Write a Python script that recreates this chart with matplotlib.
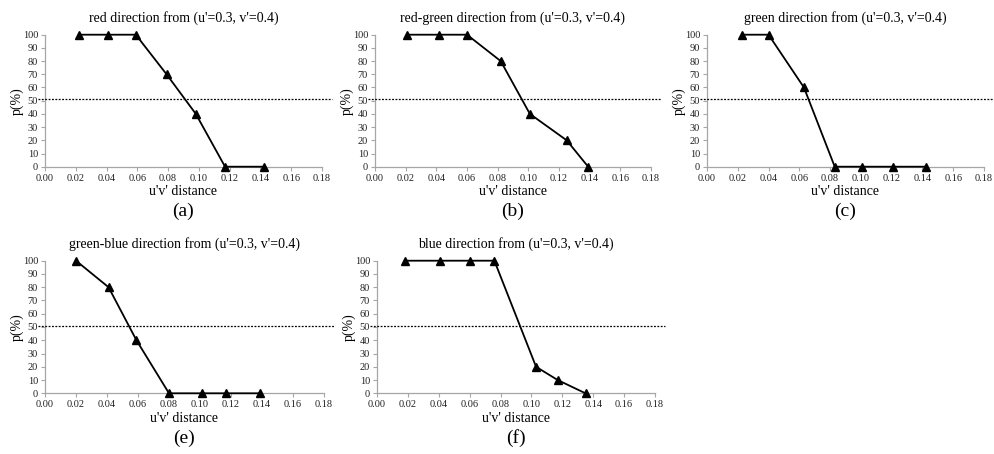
import matplotlib
matplotlib.use("Agg")
import matplotlib.pyplot as plt
import matplotlib.transforms as mtransforms

plt.rcParams['font.family'] = 'Liberation Serif'

# distances (u'v') and percentages
x_red = [0.022, 0.041, 0.059, 0.079, 0.098, 0.117, 0.142]
p_red = [100, 100, 100, 70, 40, 0, 0]

x_red_green = [0.021, 0.042, 0.060, 0.082, 0.101, 0.125, 0.139]
p_red_green = [100, 100, 100, 80, 40, 20, 0]

x_green = [0.023, 0.040, 0.063, 0.083, 0.101, 0.121, 0.142]
p_green = [100, 100, 60, 0, 0, 0, 0]

x_green_blue = [0.020, 0.041, 0.059, 0.080, 0.101, 0.117, 0.139]
p_green_blue = [100, 80, 40, 0, 0, 0, 0]

x_blue = [0.018, 0.041, 0.060, 0.076, 0.103, 0.117, 0.135]
p_blue = [100, 100, 100, 100, 20, 10, 0]

titles = ["red direction from (u'=0.3, v'=0.4)",
          "red-green direction from (u'=0.3, v'=0.4)",
          "green direction from (u'=0.3, v'=0.4)",
          "green-blue direction from (u'=0.3, v'=0.4)",
          "blue direction from (u'=0.3, v'=0.4)"]
letters = ["(a)", "(b)", "(c)", "(e)", "(f)"]
threshold = 51

W, H = 995, 454
fig = plt.figure(figsize=(W / 100, H / 100), dpi=100)

# axes boxes in pixels: left, right, top (100), bottom (0)
boxes = [(45, 322, 34.7, 166.7),
         (375, 651, 34.7, 166.7),
         (707, 984, 34.7, 166.7),
         (45, 324, 260.7, 393.3),
         (377, 655, 260.7, 393.3)]
data = [(x_red, p_red), (x_red_green, p_red_green), (x_green, p_green),
        (x_green_blue, p_green_blue), (x_blue, p_blue)]

grey = '#a6a6a6'
for i in range(5):
    l, r, t, b = boxes[i]
    ax = fig.add_axes([l / W, 1 - b / H, (r - l) / W, (b - t) / H])
    xs, ps = data[i]
    ax.plot(xs, ps, color='black', linewidth=1.3, marker='^', markersize=6,
            clip_on=False, zorder=5)
    trans = mtransforms.blended_transform_factory(ax.transAxes, ax.transData)
    ax.plot([-0.025, 1.035], [threshold, threshold], transform=trans, color='black',
            linewidth=0.9, linestyle=(0, (1.5, 1.2)), clip_on=False, zorder=4)
    ax.set_xlim(0, 0.18)
    ax.set_ylim(0, 100)
    ax.set_xticks([0.02 * k for k in range(10)])
    ax.set_xticklabels(['%.2f' % (0.02 * k) for k in range(10)])
    ax.set_yticks(range(0, 101, 10))
    for s in ['top', 'right']:
        ax.spines[s].set_visible(False)
    for s in ['left', 'bottom']:
        ax.spines[s].set_color(grey)
        ax.spines[s].set_linewidth(0.9)
    ax.tick_params(colors=grey, labelcolor='#222222', labelsize=7.5, length=3, width=0.8, pad=2)
    ax.set_title(titles[i], fontsize=10, pad=9)
    ax.set_xlabel("u'v' distance", fontsize=10, labelpad=2)
    ax.set_ylabel("p(%)", fontsize=10, labelpad=-1)
    fig.text((l + r) / 2 / W, 1 - (b + 45) / H, letters[i], fontsize=14,
             ha='center', va='center')

fig.savefig('out.png', dpi=100)
